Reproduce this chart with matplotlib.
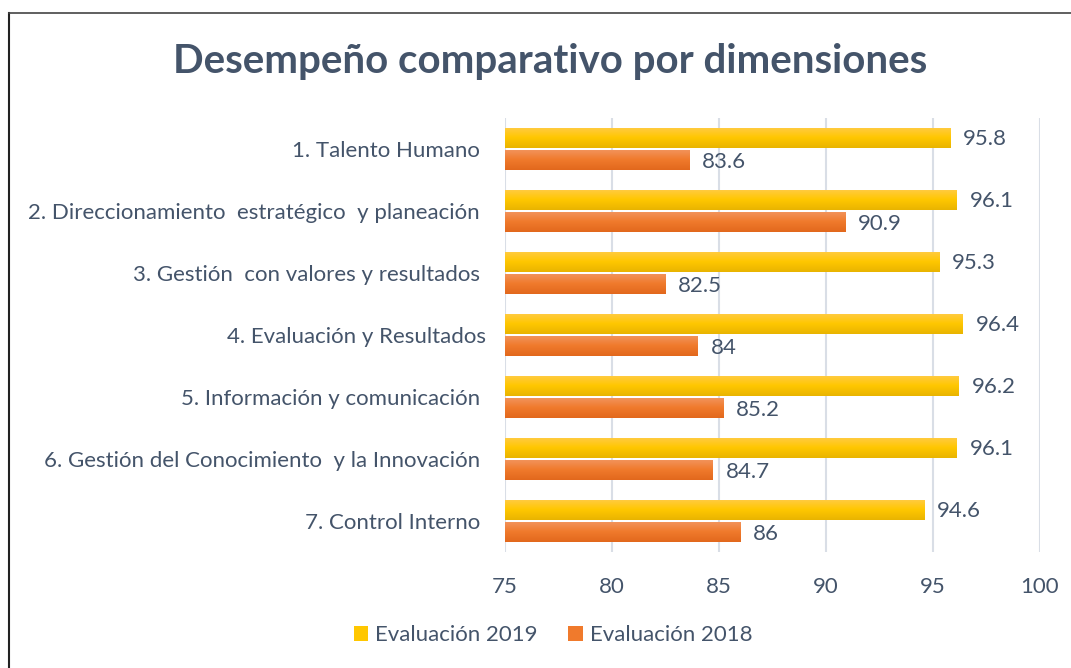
import matplotlib
matplotlib.use("Agg")
import matplotlib.pyplot as plt
import numpy as np
from matplotlib.patches import Rectangle
from matplotlib.lines import Line2D
from matplotlib.colors import LinearSegmentedColormap

categories = [
    "1. Talento Humano ",
    "2. Direccionamiento  estratégico  y planeación ",
    "3. Gestión  con valores y resultados ",
    "4. Evaluación y Resultados",
    "5. Información y comunicación ",
    "6. Gestión del Conocimiento  y la Innovación ",
    "7. Control Interno ",
]
eval_2019 = [95.8, 96.1, 95.3, 96.4, 96.2, 96.1, 94.6]
eval_2018 = [83.6, 90.9, 82.5, 84, 85.2, 84.7, 86]
label_2019 = ["95.8", "96.1", "95.3", "96.4", "96.2", "96.1", "94.6"]
label_2018 = ["83.6", "90.9", "82.5", "84", "85.2", "84.7", "86"]
xticks = [75, 80, 85, 90, 95, 100]
series_names = ["Evaluación 2019", "Evaluación 2018"]

TXT = "#44546A"
plt.rcParams['font.family'] = ['Lato', 'DejaVu Sans']

fig = plt.figure(figsize=(10.71, 6.68), dpi=100)
W, H = 1071, 668
ax = fig.add_axes([505 / W, 1 - 552 / H, (1040 - 505) / W, (552 - 118) / H])

yellow = LinearSegmentedColormap.from_list("y", ["#FFCB45", "#FFC700", "#E9B400"])
orange = LinearSegmentedColormap.from_list("o", ["#F2955E", "#F07A2C", "#E2681D"])

bh = 0.335
xmin, xmax = 75, 100
y = np.arange(len(categories))
grad = np.linspace(0, 1, 64).reshape(-1, 1)

for i in range(len(categories)):
    for val, off, cmap in ((eval_2019[i], -bh / 2 - 0.01, yellow), (eval_2018[i], bh / 2 + 0.01, orange)):
        yc = y[i] + off
        bars = ax.barh(yc, val - xmin, left=xmin, height=bh, color="none", zorder=3)
        for b in bars:
            im = ax.imshow(grad, cmap=cmap, aspect="auto",
                           extent=[xmin, val, yc + bh / 2, yc - bh / 2],
                           origin="upper", zorder=3)
            im.set_clip_path(b)
    ax.text(eval_2019[i] + 0.6, y[i] - bh / 2 + 0.01, label_2019[i], va="center", ha="left",
            fontsize=16, color=TXT)
    ax.text(eval_2018[i] + 0.6, y[i] + bh / 2 + 0.04, label_2018[i], va="center", ha="left",
            fontsize=16, color=TXT)

ax.set_xlim(xmin, xmax)
ax.set_ylim(len(categories) - 0.5, -0.5)
ax.set_xticks(xticks)
ax.set_xticklabels([str(t) for t in xticks], fontsize=16, color=TXT)
ax.set_yticks(y)
ax.set_yticklabels(categories, fontsize=16, color=TXT)
ax.tick_params(axis="both", length=0)
ax.tick_params(axis="y", pad=14)
ax.tick_params(axis="x", pad=18)
for s in ax.spines.values():
    s.set_visible(False)
ax.grid(axis="x", color="#D9DEE6", linewidth=1.5, zorder=0)
ax.set_axisbelow(True)

fig.text(550 / W, 1 - 61 / H, "Desempeño comparativo por dimensiones", ha="center", va="center",
         fontsize=29, fontweight="bold", color=TXT)

handles = [Rectangle((0, 0), 1, 1, facecolor="#FFC700"), Rectangle((0, 0), 1, 1, facecolor="#F07A2C")]
fig.legend(handles, series_names, loc="center", bbox_to_anchor=(553 / W, 1 - 635 / H), ncol=2,
           frameon=False, fontsize=16, labelcolor=TXT, handlelength=0.65, handleheight=0.65,
           handletextpad=0.3, columnspacing=1.4)

# border
fig.add_artist(Line2D([9 / W, 9 / W], [0, 1 - 13 / H], color="#222222", linewidth=1.5))
fig.add_artist(Line2D([9 / W, 1], [1 - 13 / H, 1 - 13 / H], color="#444444", linewidth=1.2))

fig.savefig("out.png", dpi=100)
